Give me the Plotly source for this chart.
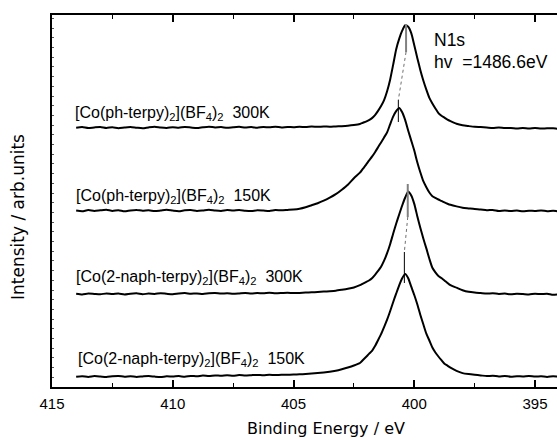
import numpy as np
import plotly.graph_objects as go

# ---------------- data ----------------
# binding-energy sampling grid (eV): coarse on the flat parts, finer across the N1s peak
energy_left = np.linspace(414.0, 402.25, 48)
energy_peak = np.linspace(402.125, 398.5, 30)
energy_right = np.linspace(398.25, 393.75, 19)
energy = np.concatenate([energy_left, energy_peak, energy_right])

# intensities above each spectrum's own baseline (arb. units)
ph_terpy_300K = [
    0.0, 0.6, -0.4, 0.3, 0.8, -0.2, 0.4, -0.5, 0.2, 0.7, 0.0, -0.6, 0.3, 0.9, 0.1, -0.3,
    0.5, 0.0, 0.8, 0.2, -0.4, 0.4, 1.0, 0.3, 0.6, -0.1, 0.5, 0.9, 0.2, 0.6, 0.0, 0.7,
    0.4, 0.9, 0.3, 0.8, 0.5, 1.0, 0.6, 1.1, 0.9, 1.2, 1.0, 1.3, 1.5, 1.9, 2.6, 3.7,
    5.0, 6.1, 7.6, 9.6, 12.6, 16.8, 21.6, 27.6, 36.5, 48.0, 62.8, 78.3, 88.8, 97.0, 102.4,
    101.0, 94.5, 82.5, 69.8, 57.8, 47.2, 38.0, 29.8, 24.2, 19.2, 14.6, 12.0, 10.0, 8.0, 6.5,
    3.9, 2.4, 1.6, 0.9, 0.6, 0.2, -0.3, 0.1, -0.4, -0.2, -0.7, -0.3, -0.8, -0.4, -0.9,
    -0.5, -0.6, -1.1, -0.7]
ph_terpy_150K = [
    0.2, -0.5, 0.6, -0.3, 0.4, 1.0, -0.2, 0.5, -0.6, 0.3, 0.8, -0.1, 0.5, -0.4, 0.2, 0.9,
    0.1, -0.5, 0.4, 0.7, -0.2, 0.3, 1.0, 0.2, -0.3, 0.6, 0.1, 0.8, 0.0, -0.4, 0.5, 0.2,
    -0.2, 0.6, 0.4, 0.8, 1.2, 2.0, 3.5, 5.5, 7.5, 10.0, 13.0, 16.5, 21.0, 26.0, 32.5, 38.0,
    42.0, 45.8, 50.0, 54.0, 58.5, 63.4, 68.3, 73.3, 78.3, 86.3, 94.0, 99.5, 102.8, 98.5, 90.6,
    80.0, 70.1, 60.1, 48.5, 38.5, 29.5, 23.5, 18.2, 14.5, 12.8, 11.2, 9.8, 8.3, 7.0, 5.9,
    4.3, 3.0, 2.3, 1.6, 1.2, 0.4, 0.8, -0.2, 0.3, -0.4, 0.2, -0.6, 0.0, -0.3, 0.3,
    -0.5, -0.1, -0.7, -0.2]
naph_terpy_300K = [
    0.3, -0.4, 0.5, 0.1, -0.3, 0.6, 0.0, 0.4, -0.5, 0.3, 0.7, -0.2, 0.4, 0.1, 0.8, 0.2,
    -0.3, 0.5, 0.9, 0.3, 0.6, 0.0, 0.7, 1.0, 0.4, 0.8, 0.2, 0.6, 1.1, 0.5, 0.9, 0.7,
    1.2, 0.8, 1.0, 1.3, 0.9, 1.1, 1.4, 1.7, 2.0, 2.4, 2.8, 3.3, 4.2, 5.2, 6.5, 8.8,
    10.4, 11.9, 13.5, 15.8, 19.2, 23.1, 27.3, 33.3, 40.8, 49.8, 60.3, 70.2, 79.5, 88.5, 96.5,
    102.6, 98.5, 90.1, 77.8, 66.3, 55.5, 45.6, 35.2, 26.2, 21.6, 18.0, 16.0, 13.6, 11.1, 8.8,
    6.3, 3.8, 2.2, 1.4, 0.9, 0.4, 0.7, 0.1, 0.4, -0.2, 0.3, 0.0, -0.4, 0.2, -0.1,
    0.3, -0.8, -0.3, 0.0]
naph_terpy_150K = [
    0.0, 0.5, -0.3, 0.6, 0.2, -0.4, 0.4, 0.8, 0.0, 0.5, -0.2, 0.3, 0.7, 0.1, -0.3, 0.4,
    0.2, 0.6, 0.0, 0.8, 0.4, 1.1, 0.6, 1.3, 0.9, 1.4, 1.0, 1.6, 1.2, 1.5, 1.8, 1.4,
    1.9, 1.6, 2.0, 1.9, 2.1, 2.4, 2.7, 3.1, 3.6, 4.2, 4.9, 6.0, 7.5, 9.2, 11.2, 13.7,
    16.7, 19.7, 22.8, 25.8, 30.6, 36.5, 42.5, 49.6, 57.0, 65.4, 74.5, 83.0, 91.4, 98.5, 102.7,
    98.5, 90.0, 81.7, 72.4, 62.0, 52.4, 43.0, 36.2, 29.2, 24.2, 20.2, 16.5, 13.0, 11.0, 9.0,
    5.8, 3.6, 2.6, 1.9, 1.3, 0.6, 1.0, 0.3, 0.7, 0.0, 0.5, 0.2, 0.8, 0.1, 0.4,
    -0.2, 0.5, 0.0, 0.3]

spectra = [ph_terpy_300K, ph_terpy_150K, naph_terpy_300K, naph_terpy_150K]
# vertical stacking offsets of each spectrum
offsets = [259.3, 176.3, 93.0, 10.3]

labels = [
    "[Co(ph-terpy)<sub>2</sub>](BF<sub>4</sub>)<sub>2</sub>\u00a0\u00a0300K",
    "[Co(ph-terpy)<sub>2</sub>](BF<sub>4</sub>)<sub>2</sub>\u00a0\u00a0150K",
    "[Co(2-naph-terpy)<sub>2</sub>](BF<sub>4</sub>)<sub>2</sub>\u00a0\u00a0300K",
    "[Co(2-naph-terpy)<sub>2</sub>](BF<sub>4</sub>)<sub>2</sub>\u00a0\u00a0150K",
]

# peak-position markers (eV) and their vertical extents
peak_energy = [400.34, 400.66, 400.27, 400.41]
marker_top = [363, 287, 203, 135]
marker_bottom = [335, 265, 170, 104]
marker_colors = ["#808080", "#000000", "#808080", "#000000"]
marker_widths = [2, 1, 2, 1]

x_ticks = [415, 410, 405, 400, 395]

for s in spectra:
    assert len(s) == len(energy)

# ---------------- figure ----------------
W, H = 557, 440
ML, MR, MT, MB = 52, 0, 15, 53
FONT = "Liberation Sans, Arial, sans-serif"
FONT_W = "DejaVu Sans, sans-serif"

fig = go.Figure()
for vals, off in zip(spectra, offsets):
    fig.add_trace(go.Scatter(
        x=energy, y=np.array(vals) + off, mode="lines",
        line=dict(color="black", width=2, shape="spline", smoothing=0.6),
        showlegend=False, hoverinfo="skip"))

shapes = []
for e, t, b, c, w in zip(peak_energy, marker_top, marker_bottom, marker_colors, marker_widths):
    shapes.append(dict(type="line", xref="x", yref="y", x0=e, x1=e, y0=b, y1=t,
                       line=dict(color=c, width=w)))
# dotted connectors between 300K and 150K markers
for i in (0, 2):
    shapes.append(dict(type="line", xref="x", yref="y",
                       x0=peak_energy[i], y0=marker_bottom[i],
                       x1=peak_energy[i + 1], y1=marker_top[i + 1],
                       line=dict(color="#707070", width=1, dash="dot")))

pw = W - ML - MR
ph = H - MT - MB
def px_x(x):
    return (x - ML) / pw
def px_y(y):
    return (H - MB - y) / ph

label_px = [(72.7, 113), (74, 196), (74, 277), (76, 359)]
annotations = []
for txt, (lx, ly) in zip(labels, label_px):
    annotations.append(dict(text=txt, xref="paper", yref="paper", x=px_x(lx), y=px_y(ly),
                            xanchor="left", yanchor="middle", showarrow=False,
                            font=dict(family=FONT, size=16, color="black")))
annotations += [
    dict(text="N1s", xref="paper", yref="paper", x=px_x(432), y=px_y(40),
         xanchor="left", yanchor="middle", showarrow=False,
         font=dict(family=FONT, size=17.5, color="black")),
    dict(text="hv\u00a0\u00a0=1486.6eV", xref="paper", yref="paper", x=px_x(432), y=px_y(62),
         xanchor="left", yanchor="middle", showarrow=False,
         font=dict(family=FONT, size=17.5, color="black")),
    dict(text="Binding Energy / eV", xref="paper", yref="paper", x=px_x(326), y=px_y(429),
         xanchor="center", yanchor="middle", showarrow=False,
         font=dict(family=FONT_W, size=16, color="black")),
    dict(text="Intensity / arb.units", xref="paper", yref="paper", x=px_x(18), y=px_y(217),
         xanchor="center", yanchor="middle", showarrow=False, textangle=-90,
         font=dict(family=FONT_W, size=17, color="black")),
]

fig.update_layout(
    width=W, height=H,
    margin=dict(l=ML, r=MR, t=MT, b=MB, pad=0),
    paper_bgcolor="white", plot_bgcolor="white",
    shapes=shapes, annotations=annotations,
    xaxis=dict(range=[415, 394.09], tickvals=x_ticks, ticktext=[str(v) for v in x_ticks],
               ticks="inside", ticklen=7, tickwidth=1.5, tickcolor="black",
               showline=True, linecolor="black", linewidth=1.5, mirror="ticks",
               showgrid=False, zeroline=False,
               minor=dict(dtick=2.5, tick0=395, ticks="inside", ticklen=4, tickwidth=1,
                          tickcolor="black", showgrid=False),
               tickfont=dict(family=FONT, size=15, color="black"),
               ticklabelstandoff=2),
    yaxis=dict(range=[0, 372], showticklabels=False, ticks="inside", ticklen=2, tickwidth=1,
               tickcolor="#555", dtick=9.7, tick0=0,
               showline=True, linecolor="black", linewidth=1.5, mirror=False,
               showgrid=False, zeroline=False),
)

fig.write_html("out.html", config={"displayModeBar": False},
               post_script="document.body.style.margin='0';document.body.style.overflow='hidden';")
